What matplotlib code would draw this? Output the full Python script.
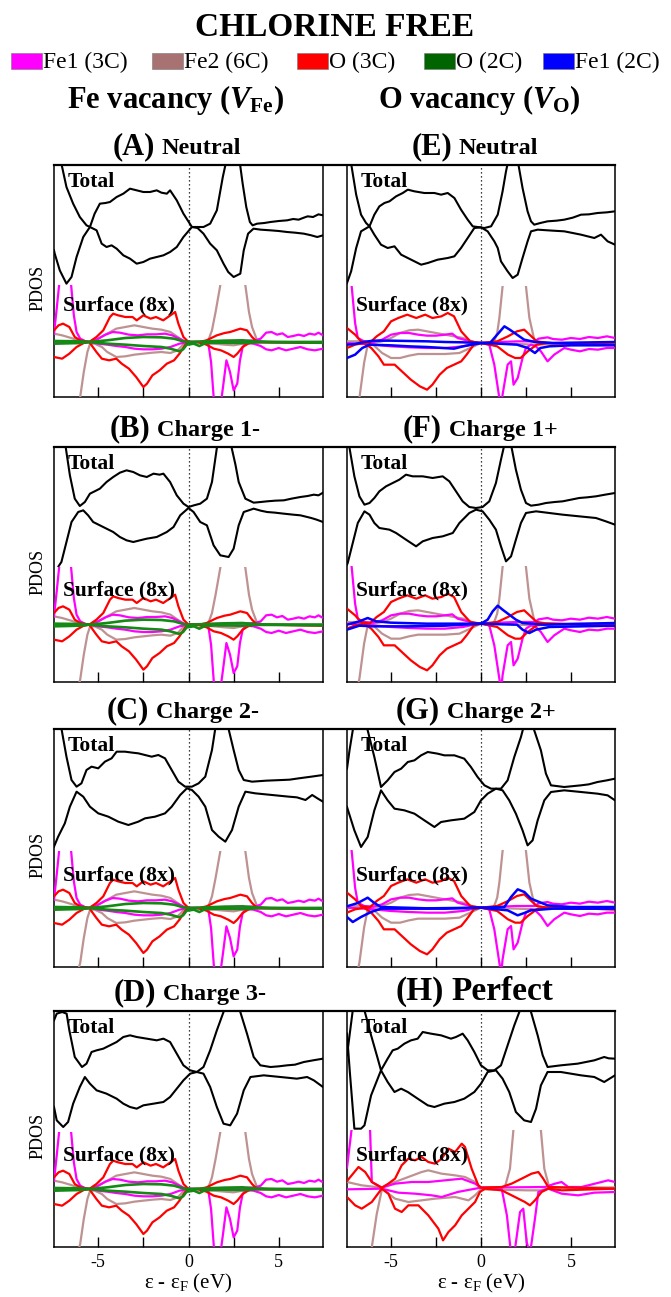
import numpy as np
import matplotlib
matplotlib.use('Agg')
import matplotlib.pyplot as plt
from matplotlib.patches import Rectangle
from matplotlib.lines import Line2D

plt.rcParams['font.family'] = ['Liberation Serif', 'DejaVu Serif']
plt.rcParams['mathtext.fontset'] = 'custom'
plt.rcParams['mathtext.rm'] = 'Liberation Serif'
plt.rcParams['mathtext.it'] = 'Liberation Serif:italic:bold'
plt.rcParams['mathtext.bf'] = 'Liberation Serif:bold'

# ---------------- legend / labels ----------------
TITLE = 'CHLORINE FREE'
LEGEND_LABELS = ['Fe1 (3C)', 'Fe2 (6C)', 'O (3C)', 'O (2C)', 'Fe1 (2C)']
LEGEND_COLORS = ['#ff00ff', '#a87272', '#ff0000', '#006400', '#0000ff']
COL_HEADERS = [r'Fe vacancy ($V_{\mathbf{Fe}}$)', r'O vacancy ($V_{\mathbf{O}}$)']
PANEL_LETTERS = ['(A)', '(B)', '(C)', '(D)', '(E)', '(F)', '(G)', '(H)']
PANEL_NAMES = ['Neutral', 'Charge 1-', 'Charge 2-', 'Charge 3-',
               'Neutral', 'Charge 1+', 'Charge 2+', 'Perfect']
XTICKS = [-5, 0, 5]
XMINOR = [-2.5, 2.5]

# ---------------- Total DOS (relative to total baseline), (energy eV, value) ----------------
A_TOT_UP = [(-7.45,350),(-7.22,300),(-7.04,190),(-6.76,120),(-6.39,70),(-6.02,30),(-5.65,5),(-5.46,0),(-5.2,40),(-4.91,70),(-4.6,72),(-4.35,75),(-3.98,90),(-3.61,100),(-3.24,115),(-2.87,110),(-2.5,105),(-2.13,105),(-1.76,110),(-1.5,103),(-1.2,100),(-1.02,110),(-0.65,80),(-0.28,40),(0.19,0),(0.83,0),(1.2,10),(1.57,50),(1.9,150),(2.1,200),(2.5,260),(2.85,190),(3.0,130),(3.2,60),(3.4,15),(3.55,5),(3.8,10),(4.2,12),(4.54,15),(5.0,18),(5.46,20),(5.8,24),(6.1,22),(6.39,28),(6.6,32),(6.9,30),(7.2,38),(7.45,35)]
A_TOT_DN = [(-7.45,-70),(-7.41,-80),(-7.13,-130),(-6.76,-170),(-6.48,-150),(-6.2,-90),(-5.83,-30),(-5.46,0),(-5.09,-10),(-4.81,-50),(-4.54,-60),(-4.26,-55),(-3.98,-65),(-3.61,-85),(-3.24,-95),(-2.87,-110),(-2.5,-105),(-2.13,-95),(-1.76,-90),(-1.39,-85),(-1.02,-75),(-0.65,-60),(-0.28,-30),(0.19,0),(0.5,-3),(0.83,-20),(1.2,-50),(1.57,-70),(1.94,-110),(2.2,-135),(2.5,-150),(2.87,-140),(3.06,-70),(3.3,-20),(3.6,-5),(4.0,-8),(4.54,-10),(5.0,-12),(5.46,-15),(5.9,-17),(6.39,-20),(6.8,-25),(7.13,-30),(7.45,-25)]
B_TOT_UP = [(-7.45,350),(-7.04,300),(-6.85,200),(-6.57,98),(-6.3,28),(-6.02,6),(-5.74,18),(-5.46,43),(-5.2,50),(-4.91,58),(-4.54,78),(-4.17,93),(-3.8,106),(-3.43,113),(-3.06,108),(-2.69,98),(-2.31,93),(-1.94,103),(-1.6,100),(-1.39,103),(-1.02,78),(-0.65,38),(-0.28,13),(0,3),(0.3,8),(0.65,13),(1.02,28),(1.3,78),(1.57,180),(1.85,250),(2.31,200),(2.6,130),(2.78,78),(3.15,28),(3.61,16),(4.0,18),(4.35,20),(4.8,22),(5.28,23),(5.7,28),(6.2,33),(6.6,36),(6.94,40),(7.2,38),(7.45,46)]
B_TOT_DN = [(-7.2,-175),(-7.04,-162),(-6.76,-102),(-6.48,-42),(-6.11,-12),(-5.83,-7),(-5.56,-22),(-5.28,-42),(-4.91,-52),(-4.54,-62),(-4.17,-72),(-3.8,-87),(-3.43,-97),(-3.06,-102),(-2.69,-97),(-2.31,-92),(-1.76,-87),(-1.2,-72),(-0.83,-57),(-0.46,-22),(0,0),(0.28,-12),(0.65,-42),(1.02,-52),(1.39,-112),(1.76,-142),(2.22,-147),(2.5,-122),(2.78,-52),(3.06,-12),(3.61,-2),(4.0,-8),(4.35,-12),(4.8,-14),(5.28,-17),(5.8,-20),(6.2,-22),(6.8,-30),(7.1,-35),(7.45,-42)]
C_TOT_UP = [(-7.45,350),(-7.3,300),(-7.04,177),(-6.76,92),(-6.48,22),(-6.2,2),(-5.93,12),(-5.65,52),(-5.37,62),(-5.0,57),(-4.63,77),(-4.26,87),(-3.98,107),(-3.52,107),(-3.1,104),(-2.78,102),(-2.41,97),(-2.04,92),(-1.67,97),(-1.3,87),(-0.93,52),(-0.56,17),(-0.19,2),(0.19,2),(0.56,12),(0.93,32),(1.3,112),(1.48,175),(1.85,260),(2.22,175),(2.5,112),(2.78,52),(3.06,22),(3.52,17),(4.3,20),(5.19,22),(5.6,23),(6.11,27),(6.8,32),(7.45,37)]
C_TOT_DN = [(-7.45,-178),(-7.22,-148),(-6.85,-108),(-6.57,-58),(-6.2,-13),(-5.83,-28),(-5.46,-58),(-5.0,-78),(-4.44,-88),(-3.89,-103),(-3.33,-113),(-2.78,-103),(-2.41,-93),(-1.85,-88),(-1.3,-78),(-0.93,-58),(-0.46,-23),(-0.09,-3),(0.19,-8),(0.56,-28),(0.93,-58),(1.3,-128),(1.67,-148),(2.04,-163),(2.41,-128),(2.78,-58),(3.15,-13),(3.7,-18),(4.63,-23),(5.56,-28),(6.0,-30),(6.48,-38),(6.85,-23),(7.2,-35),(7.45,-43)]
D_TOT_UP = [(-7.45,155),(-7.3,175),(-7.0,180),(-6.75,175),(-6.6,125),(-6.3,45),(-5.9,15),(-5.65,25),(-5.37,60),(-5.09,65),(-4.72,70),(-4.35,80),(-3.98,90),(-3.61,105),(-3.24,110),(-2.87,105),(-2.31,100),(-1.76,95),(-1.39,100),(-1.02,90),(-0.65,55),(-0.28,20),(0.09,5),(0.46,0),(0.83,15),(1.2,65),(1.57,125),(1.94,180),(2.5,260),(2.87,180),(3.24,115),(3.61,45),(3.98,20),(4.54,15),(5.0,17),(5.46,20),(5.9,22),(6.39,30),(6.9,35),(7.45,40)]
D_TOT_DN = [(-7.45,-105),(-7.3,-145),(-6.94,-165),(-6.67,-150),(-6.39,-95),(-6.02,-45),(-5.74,-15),(-5.46,-35),(-5.09,-55),(-4.54,-65),(-3.98,-80),(-3.61,-95),(-3.24,-105),(-2.87,-110),(-2.5,-100),(-1.94,-95),(-1.39,-90),(-1.02,-75),(-0.65,-50),(-0.28,-25),(0.09,-5),(0.46,0),(0.83,-5),(1.2,-45),(1.57,-105),(1.94,-155),(2.31,-160),(2.69,-125),(3.06,-55),(3.43,-15),(4.17,-10),(5.09,-15),(6.0,-20),(6.57,-15),(6.94,-25),(7.45,-45)]
E_TOT_UP = [(-7.45,350),(-7.31,300),(-7.22,190),(-6.94,97),(-6.67,37),(-6.39,12),(-6.2,2),(-5.93,37),(-5.65,62),(-5.37,72),(-5.09,77),(-4.72,92),(-4.35,102),(-4.07,112),(-3.7,107),(-3.15,102),(-2.59,102),(-2.22,97),(-1.85,102),(-1.48,87),(-1.11,52),(-0.74,22),(-0.46,2),(0.19,-3),(0.56,2),(0.93,37),(1.2,107),(1.39,167),(1.76,260),(2.04,200),(2.31,117),(2.59,47),(2.78,17),(2.96,7),(3.3,12),(3.7,17),(4.2,19),(4.63,22),(5.1,28),(5.56,37),(6.0,38),(6.48,42),(7.0,44),(7.45,47)]
E_TOT_DN = [(-7.45,-168),(-7.22,-133),(-6.94,-63),(-6.67,-13),(-6.2,2),(-5.93,-23),(-5.56,-53),(-5.19,-63),(-4.81,-58),(-4.44,-83),(-4.07,-93),(-3.7,-103),(-3.33,-113),(-2.96,-108),(-2.41,-98),(-1.85,-93),(-1.48,-88),(-1.11,-63),(-0.74,-33),(-0.37,-3),(0,-1),(0.37,-13),(0.74,-43),(0.93,-63),(1.11,-103),(1.48,-133),(1.76,-153),(2.04,-143),(2.31,-93),(2.59,-43),(2.78,-13),(3.15,-8),(4.0,-11),(4.63,-13),(5.1,-18),(5.56,-23),(6.3,-33),(6.67,-23),(7.04,-43),(7.45,-53)]
F_TOT_UP = [(-7.45,250),(-7.31,180),(-7.04,95),(-6.76,35),(-6.48,10),(-6.2,15),(-5.93,30),(-5.65,50),(-5.28,65),(-4.91,75),(-4.54,85),(-4.17,100),(-3.8,95),(-3.24,95),(-2.69,90),(-2.13,95),(-1.76,80),(-1.39,50),(-1.02,20),(-0.65,3),(-0.28,0),(0.09,3),(0.46,20),(0.83,75),(1.11,145),(1.3,190),(1.48,220),(1.67,190),(1.94,115),(2.22,55),(2.5,15),(2.78,7),(3.2,10),(3.61,15),(4.1,18),(4.54,20),(5.0,25),(5.46,30),(5.9,32),(6.39,35),(6.9,40),(7.45,45)]
F_TOT_DN = [(-7.45,-170),(-7.41,-165),(-7.13,-105),(-6.85,-45),(-6.48,-10),(-6.2,-20),(-5.93,-45),(-5.65,-60),(-5.09,-65),(-4.72,-75),(-4.17,-95),(-3.61,-115),(-3.24,-100),(-2.69,-90),(-2.13,-85),(-1.57,-75),(-1.2,-45),(-0.65,-15),(-0.28,-5),(0.09,-10),(0.46,-35),(0.83,-65),(1.11,-115),(1.39,-160),(1.67,-145),(1.94,-95),(2.22,-45),(2.5,-15),(3.06,-10),(3.8,-15),(4.54,-20),(5.46,-25),(6.39,-30),(6.94,-40),(7.45,-50)]
G_TOT_UP = [(-7.45,60),(-7.31,115),(-7.13,175),(-6.9,230),(-6.6,230),(-6.3,175),(-5.93,95),(-5.56,5),(-5.19,25),(-4.81,50),(-4.44,60),(-4.07,80),(-3.7,85),(-3.33,100),(-2.96,110),(-2.41,105),(-2.04,100),(-1.48,100),(-0.93,90),(-0.56,65),(-0.19,35),(0.19,10),(0.56,0),(1.11,0),(1.48,25),(1.85,95),(2.22,155),(2.59,230),(2.96,175),(3.33,115),(3.61,45),(3.89,10),(4.63,5),(5.56,10),(6.0,13),(6.48,20),(7.0,25),(7.45,30)]
G_TOT_DN = [(-7.45,-55),(-7.04,-125),(-6.67,-175),(-6.3,-145),(-5.93,-65),(-5.56,-5),(-5.19,-35),(-4.81,-60),(-4.26,-65),(-3.7,-75),(-3.15,-95),(-2.59,-115),(-2.22,-100),(-1.67,-95),(-0.93,-90),(-0.37,-70),(0,-35),(0.37,-15),(0.83,0),(1.2,-5),(1.57,-35),(1.94,-75),(2.31,-125),(2.59,-170),(2.87,-155),(3.15,-95),(3.52,-35),(3.89,-10),(4.63,-5),(5.56,-10),(6.48,-15),(7.04,-20),(7.45,-35)]
H_TOT_UP = [(-7.45,45),(-7.13,180),(-6.9,240),(-6.48,180),(-6.11,105),(-5.74,35),(-5.56,0),(-5.19,35),(-4.91,60),(-4.63,65),(-4.26,80),(-3.89,90),(-3.52,95),(-3.24,115),(-2.78,110),(-2.22,105),(-1.67,95),(-1.39,100),(-1.02,110),(-0.74,90),(-0.37,55),(0,15),(0.37,0),(0.74,0),(1.11,15),(1.48,75),(1.85,135),(2.13,175),(2.4,240),(2.78,175),(3.15,105),(3.43,45),(3.7,10),(4.44,15),(5.37,20),(6.3,30),(6.85,40),(7.1,36),(7.45,35)]
H_TOT_DN = [(-7.45,110),(-7.3,0),(-7.04,-175),(-6.67,-175),(-6.48,-165),(-6.11,-75),(-5.56,0),(-5.19,-35),(-4.81,-65),(-4.44,-55),(-4.07,-65),(-3.52,-85),(-2.96,-105),(-2.59,-110),(-2.04,-100),(-1.48,-95),(-0.93,-85),(-0.37,-65),(0,-40),(0.37,-5),(0.83,0),(1.2,-25),(1.57,-65),(1.94,-125),(2.4,-150),(2.78,-155),(3.06,-115),(3.33,-45),(3.7,-5),(4.44,-5),(5.56,-15),(6.3,-20),(6.85,-35),(7.45,-15)]

# ---------------- Surface PDOS (8x), relative to surface baseline ----------------
# Fe vacancy column (A-D)
L_MAG_UP = [(-7.45,25),(-7.3,100),(-7.15,180),(-6.9,260),(-6.7,260),(-6.5,170),(-6.35,80),(-6.2,30),(-6.0,10),(-5.7,2),(-5.4,0),(-5.0,10),(-4.6,22),(-4.2,30),(-3.8,28),(-3.3,22),(-2.8,20),(-2.3,23),(-1.8,23),(-1.3,25),(-0.9,20),(-0.5,10),(-0.2,2),(0.2,0),(0.8,0),(1.2,2),(2.0,3),(3.0,3),(3.7,5),(4.0,10),(4.3,28),(4.6,30),(4.9,22),(5.2,26),(5.5,15),(5.8,18),(6.1,22),(6.4,18),(6.7,25),(7.0,22),(7.2,28),(7.45,20)]
L_MAG_DN = [(-7.45,-2),(-6.0,-3),(-5.5,0),(-5.0,-5),(-4.5,-8),(-4.0,-12),(-3.5,-15),(-3.0,-20),(-2.5,-22),(-2.0,-22),(-1.5,-20),(-1.0,-15),(-0.5,-5),(0,0),(0.5,0),(0.9,-2),(1.1,-5),(1.25,-60),(1.4,-170),(1.55,-220),(1.75,-200),(1.9,-140),(2.1,-55),(2.3,-90),(2.5,-145),(2.7,-125),(2.85,-55),(3.0,-15),(3.2,-3),(3.6,-5),(4.0,-12),(4.3,-22),(4.6,-25),(5.0,-18),(5.4,-25),(5.8,-20),(6.2,-15),(6.6,-22),(7.0,-25),(7.45,-20)]
L_BRN_UP = [(-7.45,25),(-7.0,20),(-6.5,12),(-6.0,3),(-5.5,0),(-5.0,10),(-4.5,25),(-4.0,40),(-3.5,45),(-3.0,50),(-2.5,45),(-2.0,40),(-1.5,37),(-1.0,30),(-0.6,15),(-0.3,3),(0,0),(0.8,0),(1.1,5),(1.3,35),(1.5,90),(1.76,170),(2.0,240),(2.5,300),(2.9,240),(3.15,170),(3.35,90),(3.52,45),(3.8,5),(4.2,0),(7.45,0)]
L_BRN_DN = [(-7.45,-320),(-6.7,-260),(-6.3,-220),(-6.0,-165),(-5.8,-90),(-5.6,-30),(-5.45,-5),(-5.2,-5),(-4.8,-15),(-4.5,-30),(-4.0,-45),(-3.5,-43),(-3.0,-38),(-2.5,-35),(-2.0,-32),(-1.5,-30),(-1.0,-33),(-0.6,-25),(-0.3,-8),(0,0),(1.0,-3),(2.0,-8),(2.5,-10),(3.0,-5),(3.5,-2),(7.45,0)]
L_RED_UP = [(-7.45,35),(-7.2,50),(-6.95,55),(-6.6,45),(-6.3,15),(-6.0,5),(-5.5,0),(-5.1,15),(-4.72,35),(-4.35,75),(-4.17,85),(-3.9,80),(-3.5,75),(-3.1,75),(-2.87,65),(-2.5,80),(-2.1,70),(-1.8,75),(-1.4,65),(-1.0,80),(-0.74,90),(-0.56,55),(-0.28,15),(0,0),(0.6,0),(1.0,5),(1.57,20),(2.0,27),(2.31,30),(2.87,40),(3.24,35),(3.52,15),(3.8,0),(4.5,0),(7.45,-3)]
L_RED_DN = [(-7.45,-45),(-7.0,-50),(-6.6,-35),(-6.2,-15),(-5.8,-3),(-5.5,0),(-5.1,-30),(-4.8,-50),(-4.4,-55),(-4.0,-50),(-3.7,-65),(-3.3,-80),(-2.9,-105),(-2.5,-135),(-2.3,-125),(-2.0,-100),(-1.6,-85),(-1.2,-65),(-0.8,-55),(-0.5,-35),(-0.2,-10),(0,0),(0.5,0),(1.0,-8),(1.4,-20),(1.8,-25),(2.2,-35),(2.5,-45),(2.7,-35),(3.0,-15),(3.3,-5),(3.6,0),(7.45,-2)]
L_GRN_UP = [(-7.45,3),(-6.0,2),(-5.5,0),(-4.5,5),(-3.5,12),(-2.5,15),(-1.5,14),(-0.8,10),(-0.3,2),(0,0),(1.0,2),(2.0,4),(3.0,5),(3.6,2),(4.5,0),(7.45,0)]
L_GRN_DN = [(-7.45,-5),(-6.0,-3),(-5.5,0),(-4.5,-5),(-3.5,-8),(-2.5,-12),(-1.5,-15),(-1.0,-20),(-0.5,-28),(-0.3,-22),(-0.1,-8),(0.3,-5),(0.6,-12),(0.9,-4),(1.5,-2),(3.0,-3),(4.0,0),(7.45,-2)]
# O vacancy column (E-G)
R_MAG_UP = [(-7.45,250),(-7.19,170),(-7.0,60),(-6.85,15),(-6.5,5),(-6.0,3),(-5.5,10),(-5.0,25),(-4.5,30),(-4.0,30),(-3.5,25),(-3.0,22),(-2.5,22),(-2.0,25),(-1.6,28),(-1.3,15),(-0.8,8),(-0.4,2),(0,0),(1.0,3),(2.0,5),(3.0,5),(3.2,13),(3.7,17),(4.0,12),(4.5,10),(5.0,15),(5.5,12),(6.0,18),(6.5,15),(7.0,20),(7.45,15)]
R_MAG_DN = [(-7.45,0),(-6.5,-3),(-6.0,-5),(-5.0,-10),(-4.0,-13),(-3.0,-15),(-2.0,-15),(-1.0,-10),(-0.4,-3),(0,0),(0.46,-5),(0.74,-65),(1.02,-165),(1.12,-200),(1.2,-155),(1.48,-65),(1.67,-55),(1.81,-125),(2.04,-105),(2.31,-45),(2.5,-15),(2.78,-5),(3.05,-10),(3.33,-25),(3.7,-55),(4.07,-35),(4.63,-15),(5.0,-20),(5.5,-25),(6.0,-18),(6.5,-20),(7.0,-15),(7.45,-15)]
R_BRN_UP = [(-7.45,5),(-6.5,5),(-6.0,0),(-5.5,5),(-5.0,15),(-4.5,30),(-4.0,38),(-3.5,40),(-3.0,35),(-2.5,30),(-2.0,25),(-1.5,20),(-1.0,15),(-0.4,3),(0,0),(0.7,0),(0.9,30),(1.02,75),(1.2,170),(1.5,260),(2.2,280),(2.5,170),(2.69,75),(2.96,10),(3.2,2),(4.0,0),(7.45,0)]
R_BRN_DN = [(-7.45,-320),(-6.9,-200),(-6.76,-165),(-6.5,-60),(-6.3,-5),(-6.0,-5),(-5.5,-30),(-5.0,-45),(-4.5,-45),(-4.0,-38),(-3.5,-33),(-3.0,-33),(-2.0,-33),(-1.2,-30),(-0.6,-15),(-0.2,-5),(0,0),(2.0,-3),(3.0,-5),(4.0,-3),(7.45,0)]
R_RED_UP = [(-7.45,45),(-7.0,25),(-6.67,5),(-6.2,0),(-5.8,20),(-5.4,35),(-5.0,65),(-4.6,75),(-4.1,85),(-3.6,75),(-3.1,85),(-2.7,75),(-2.2,80),(-1.85,90),(-1.5,80),(-1.1,35),(-0.6,5),(0,0),(0.9,5),(1.5,20),(2.0,35),(2.4,40),(2.8,20),(3.1,5),(3.7,0),(7.45,-5)]
R_RED_DN = [(-7.45,-15),(-7.0,-5),(-6.5,0),(-6.1,-15),(-5.7,-40),(-5.4,-65),(-4.8,-65),(-4.4,-85),(-3.9,-110),(-3.4,-130),(-3.0,-140),(-2.7,-125),(-2.3,-95),(-1.9,-75),(-1.5,-65),(-1.1,-55),(-0.8,-35),(-0.4,-5),(0,0),(0.9,-10),(1.5,-35),(1.9,-45),(2.2,-45),(2.6,-25),(3.1,-5),(3.7,0),(7.45,-5)]
E_BLU_UP = [(-7.45,-5),(-7.0,-3),(-6.5,3),(-6.0,7),(-5.0,7),(-4.0,6),(-3.0,5),(-2.0,3),(-1.0,2),(0,0),(0.5,0),(0.9,25),(1.3,50),(1.6,40),(2.0,25),(2.4,10),(3.0,3),(4.0,0),(7.45,3)]
E_BLU_DN = [(-7.45,-45),(-7.0,-35),(-6.6,-15),(-6.2,-5),(-5.0,-7),(-4.0,-10),(-3.0,-12),(-1.5,-17),(-1.0,-10),(-0.5,-5),(0,0),(1.0,-2),(2.0,-5),(2.6,-15),(3.0,-30),(3.3,-15),(3.8,-10),(5.0,-7),(7.45,-7)]
F_BLU_UP = [(-7.45,-3),(-6.76,7),(-6.3,17),(-5.83,7),(-5.0,3),(-3.0,0),(0,0),(0.37,12),(0.65,37),(0.93,54),(1.2,42),(1.57,27),(1.94,12),(2.31,2),(3.5,-3),(7.45,2)]
F_BLU_DN = [(-7.45,-18),(-6.76,-6),(-6.0,-8),(-4.0,-8),(-2.0,-6),(0,0),(2.0,-3),(2.31,-18),(2.69,-28),(3.06,-18),(3.8,-10),(7.45,-6)]
G_BLU_UP = [(-7.45,4),(-6.85,14),(-6.3,30),(-5.93,14),(-5.56,2),(-3.0,-2),(0,0),(1.3,2),(1.67,32),(2.04,55),(2.41,47),(2.78,27),(3.7,7),(5.0,2),(7.45,2)]
G_BLU_DN = [(-7.45,-28),(-7.13,-43),(-6.67,-28),(-6.11,-13),(-5.56,-3),(-4.0,-3),(-2.0,-3),(0,0),(1.48,-8),(2.04,-23),(2.41,-16),(2.78,-8),(4.0,-3),(7.45,-3)]
# Perfect surface (H)
H_MAG_UP = [(-7.45,60),(-7.19,177),(-6.7,280),(-6.17,177),(-6.07,17),(-5.52,0),(-4.78,12),(-3.85,17),(-2.93,17),(-2.0,22),(-1.07,27),(-0.33,12),(0,0),(3.56,2),(4.11,12),(4.48,17),(4.85,2),(5.59,2),(6.33,12),(7.07,22),(7.45,17)]
H_MAG_DN = [(-7.45,-5),(-5.52,-3),(-4.6,-15),(-3.67,-18),(-2.74,-23),(-2.19,-28),(-1.3,-13),(-0.52,-5),(0,0),(1.15,-3),(1.44,-83),(1.63,-178),(1.85,-200),(2.17,-73),(2.35,-63),(2.54,-163),(2.72,-200),(3.0,-93),(3.19,-13),(3.74,-3),(4.48,-18),(5.4,-23),(6.3,-15),(7.45,-13)]
H_BRN_UP = [(-7.45,17),(-6.63,7),(-5.52,0),(-4.78,17),(-4.04,32),(-3.3,47),(-2.93,52),(-2.19,42),(-1.44,37),(-0.89,32),(-0.33,17),(0,0),(1.33,2),(1.61,57),(1.8,172),(2.5,280),(3.33,172),(3.52,57),(3.8,0),(7.45,0)]
H_BRN_DN = [(-7.45,-320),(-6.5,-220),(-6.07,-178),(-5.8,-80),(-5.5,-3),(-4.78,-33),(-4.04,-43),(-3.3,-38),(-2.56,-33),(-1.44,-28),(-0.7,-38),(-0.33,-23),(0,-5),(2.6,-8),(3.3,-8),(4.0,0),(7.45,0)]
H_RED_UP = [(-7.45,20),(-7.19,37),(-6.81,62),(-6.44,47),(-6.07,17),(-5.52,0),(-5.15,12),(-4.78,27),(-4.41,67),(-4.04,87),(-3.67,82),(-3.3,92),(-2.93,77),(-2.56,72),(-2.19,87),(-1.81,117),(-1.44,107),(-1.07,132),(-0.89,122),(-0.52,57),(-0.15,7),(0,0),(1.15,2),(1.7,12),(2.26,27),(2.81,42),(3.19,47),(3.46,27),(3.74,2),(7.45,-3)]
H_RED_DN = [(-7.45,-28),(-7.0,-53),(-6.63,-63),(-6.07,-43),(-5.52,-3),(-5.15,-18),(-4.78,-63),(-4.41,-73),(-4.04,-53),(-3.48,-53),(-2.93,-83),(-2.37,-123),(-2.11,-158),(-1.81,-133),(-1.44,-113),(-1.07,-83),(-0.7,-63),(-0.33,-43),(-0.06,-13),(0.22,-3),(1.15,-8),(1.89,-28),(2.44,-43),(2.72,-53),(3.0,-38),(3.37,-13),(3.74,-3),(4.5,-8),(7.45,-3)]

# baselines (same vertical units as the values above)
TOT_BASE = [510, 522, 539, 525, 510, 522, 535, 530]
SURF_BASE = [165, 172, 177, 174, 162, 175, 178, 178]

TOTALS = [(A_TOT_UP, A_TOT_DN), (B_TOT_UP, B_TOT_DN), (C_TOT_UP, C_TOT_DN), (D_TOT_UP, D_TOT_DN),
          (E_TOT_UP, E_TOT_DN), (F_TOT_UP, F_TOT_DN), (G_TOT_UP, G_TOT_DN), (H_TOT_UP, H_TOT_DN)]
LEFT_SURF = [(L_BRN_UP, L_BRN_DN, 1), (L_MAG_UP, L_MAG_DN, 0), (L_RED_UP, L_RED_DN, 2), (L_GRN_UP, L_GRN_DN, 3)]
RIGHT_SURF = [(R_BRN_UP, R_BRN_DN, 1), (R_MAG_UP, R_MAG_DN, 0), (R_RED_UP, R_RED_DN, 2)]
BLUES = {4: (E_BLU_UP, E_BLU_DN), 5: (F_BLU_UP, F_BLU_DN), 6: (G_BLU_UP, G_BLU_DN)}
H_SURF = [(H_BRN_UP, H_BRN_DN, 1), (H_MAG_UP, H_MAG_DN, 0), (H_RED_UP, H_RED_DN, 2)]

LINE_COLORS = ['#ff00ff', '#bf9292', '#ff0000', '#138a13', '#0000ff']

# ---------------- layout (pixels) ----------------
W, H = 671, 1297
COL_X = [(54, 323), (347, 615)]
ROW_Y = [(165, 397), (447, 682), (729, 967), (1011, 1247)]
TITLE_SPLIT = [158, 153, 152, 159, 455, 445, 443, 447]

fig = plt.figure(figsize=(W / 100, H / 100), dpi=100)


def fx(x):
    return x / W


def fy(y):
    return 1 - y / H


def xy(pairs):
    a = np.array(pairs, dtype=float)
    return a[:, 0], a[:, 1]


fig.text(fx(335), fy(36), TITLE, ha='center', va='baseline', fontsize=24, fontweight='bold')
leg_sq_x = [11, 152, 297, 424, 543]
for i, (lab, col) in enumerate(zip(LEGEND_LABELS, LEGEND_COLORS)):
    fig.patches.append(Rectangle((fx(leg_sq_x[i]), fy(69)), 31 / W, 16 / H, transform=fig.transFigure,
                                 facecolor=col, edgecolor='#777777', lw=0.4))
    fig.text(fx(leg_sq_x[i] + 32), fy(68), lab, ha='left', va='baseline', fontsize=17)

fig.text(fx(176), fy(108), COL_HEADERS[0], ha='center', va='baseline', fontsize=22, fontweight='bold')
fig.text(fx(479), fy(108), COL_HEADERS[1], ha='center', va='baseline', fontsize=22, fontweight='bold')

for p in range(8):
    col, row = p // 4, p % 4
    L, R = COL_X[col]
    T, B = ROW_Y[row]
    ax = fig.add_axes([fx(L), fy(B), (R - L) / W, (B - T) / H])
    ymax = 3 * (B - T)
    ax.set_xlim(-7.45, 7.45)
    ax.set_ylim(0, ymax)
    ax.spines['top'].set_visible(False)
    for s in ['left', 'right', 'bottom']:
        ax.spines[s].set_linewidth(1.1)
    ax.set_yticks([])
    ax.set_xticks(XTICKS)
    ax.set_xticks(XMINOR, minor=True)
    ax.tick_params(axis='x', which='both', direction='in', length=7, width=1.0, top=False, pad=5, labelsize=13)
    if row < 3:
        ax.set_xticklabels([])
    else:
        ax.set_xticklabels(['-5', '0', '5'])
    ax.axvline(0, color='k', ls=(0, (1, 2.2)), lw=0.9, zorder=1)

    tb = TOT_BASE[p]
    up, dn = TOTALS[p]
    for c in (up, dn):
        e, v = xy(c)
        ax.plot(e, tb + v, color='k', lw=1.5, zorder=3)

    sb = SURF_BASE[p]
    clip = Rectangle((-7.45, 0), 14.9, sb + 172, transform=ax.transData, visible=False)
    ax.add_patch(clip)
    if p < 4:
        curves = LEFT_SURF
    elif p < 7:
        curves = RIGHT_SURF
    else:
        curves = H_SURF
    for upc, dnc, ci in curves:
        lw = 1.9 if ci == 3 else 1.6
        for c in (upc, dnc):
            e, v = xy(c)
            ln, = ax.plot(e, sb + v, color=LINE_COLORS[ci], lw=lw, zorder=4)
            ln.set_clip_path(clip)
    if p in BLUES:
        for c in BLUES[p]:
            e, v = xy(c)
            ln, = ax.plot(e, sb + v, color=LINE_COLORS[4], lw=1.8, zorder=5)
            ln.set_clip_path(clip)

    ax.text(0.05, 1 - 17 / (B - T), 'Total', transform=ax.transAxes, ha='left', va='center',
            fontsize=15.5, fontweight='bold', zorder=10)
    ax.text(0.035, 92 / (B - T), 'Surface (8x)', transform=ax.transAxes, ha='left', va='center',
            fontsize=15.5, fontweight='bold', zorder=10)

    # panel title
    split = TITLE_SPLIT[p]
    fig.text(fx(split - 3), fy(T - 11), PANEL_LETTERS[p], ha='right', va='baseline',
             fontsize=(24 if p == 7 else 22), fontweight='bold')
    fig.text(fx(split + 4), fy(T - 11), PANEL_NAMES[p], ha='left', va='baseline',
             fontsize=(24 if p == 7 else 17.5), fontweight='bold')

    if col == 0:
        fig.text(fx(38), fy(B - 0.47 * (B - T)), 'PDOS', rotation=90, ha='center', va='center', fontsize=13)
    if row == 3:
        fig.text(fx((L + R) / 2), fy(1283), r'ε - ε$_{\rm F}$ (eV)', ha='center', va='center', fontsize=15)

for T, B in ROW_Y:
    fig.add_artist(Line2D([fx(COL_X[0][0]), fx(COL_X[1][1])], [fy(T), fy(T)], color='k', lw=1.6))

fig.savefig('out.png', dpi=100)
